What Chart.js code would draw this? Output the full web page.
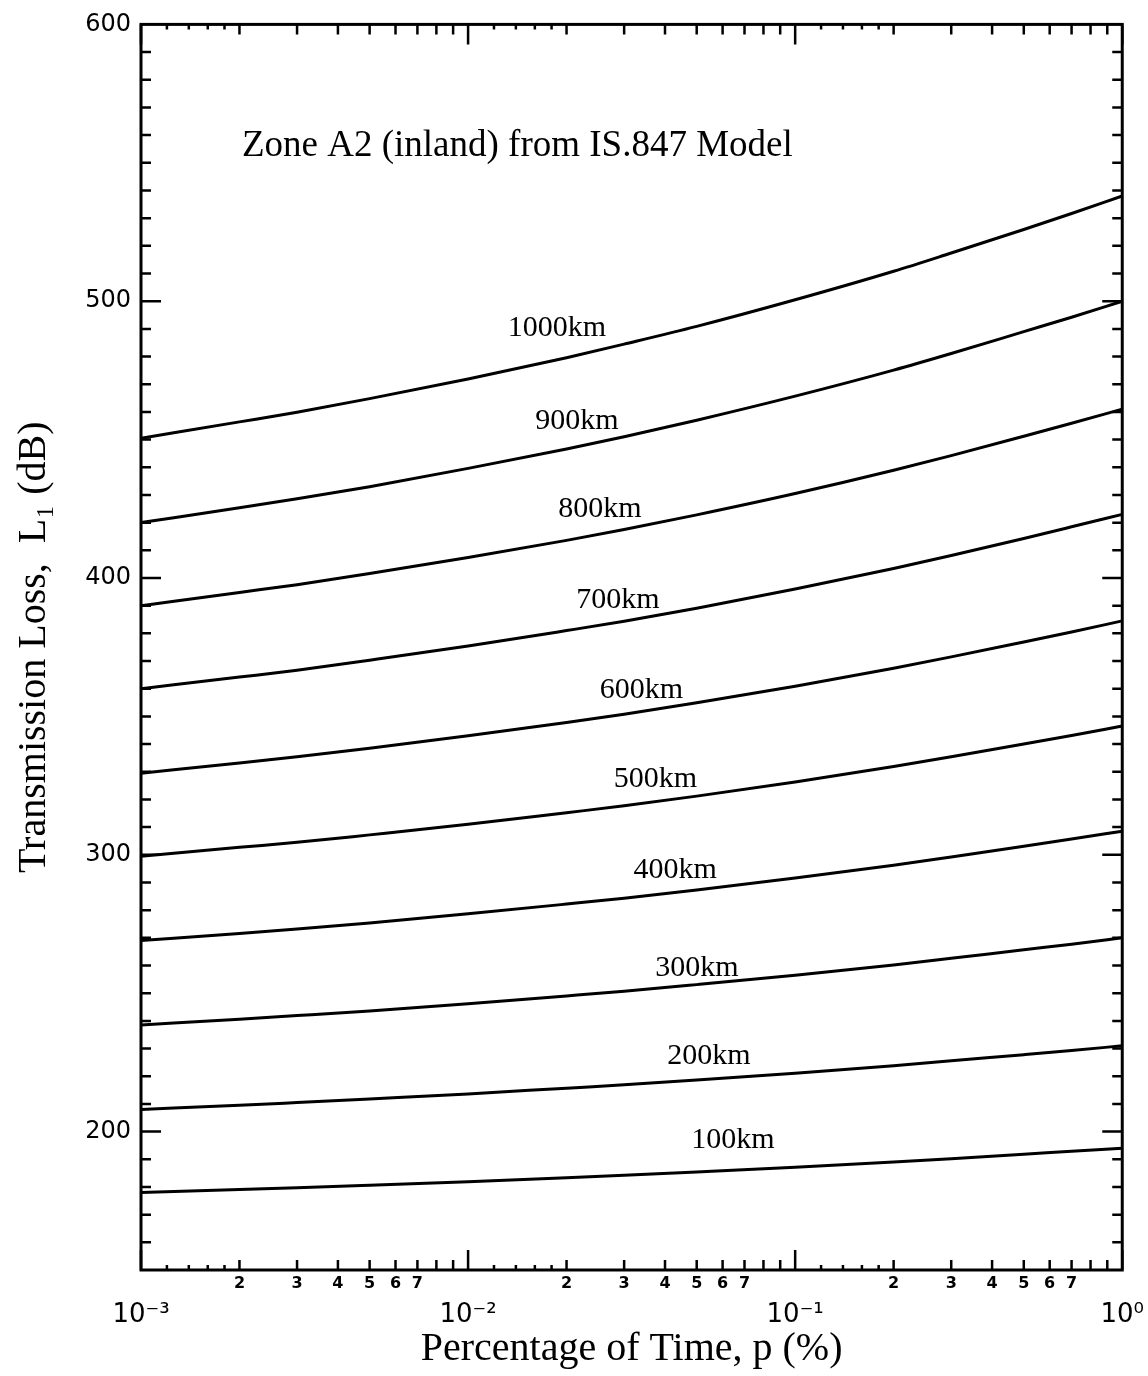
<!DOCTYPE html>
<html>
<head>
<meta charset="utf-8">
<script src="https://cdn.jsdelivr.net/npm/chart.js@4.4.0/dist/chart.umd.min.js"></script>
<style>
  html, body { margin: 0; padding: 0; background: #fff; }
</style>
</head>
<body>
<canvas id="chart" width="1148" height="1376"></canvas>
<script>
// percentage of time, p (%)
const pValues = [0.001, 0.002, 0.003, 0.005, 0.01, 0.02, 0.03, 0.05, 0.1, 0.2, 0.3, 0.5, 0.7, 1];

// transmission loss (dB) per distance
const loss100km  = [178, 179.1, 179.7, 180.6, 181.9, 183.3, 184.2, 185.4, 187.1, 189.0, 190.2, 191.8, 192.9, 194];
const loss200km  = [208, 209.5, 210.5, 211.8, 213.6, 215.7, 216.9, 218.6, 221.1, 223.8, 225.6, 227.8, 229.3, 231];
const loss300km  = [238.5, 240.6, 241.9, 243.6, 246.2, 249.0, 250.7, 253.1, 256.5, 260.2, 262.6, 265.7, 267.7, 270];
const loss400km  = [269, 271.6, 273.2, 275.4, 278.7, 282.2, 284.3, 287.3, 291.6, 296.2, 299.2, 303.1, 305.7, 308.5];
const loss500km  = [299.5, 302.7, 304.5, 307.2, 311.0, 315.2, 317.7, 321.2, 326.3, 331.9, 335.4, 340.0, 343.1, 346.5];
const loss600km  = [329.5, 333.2, 335.4, 338.5, 343.0, 347.8, 350.8, 354.9, 360.9, 367.4, 371.5, 376.9, 380.5, 384.5];
const loss700km  = [360, 364.2, 366.7, 370.3, 375.4, 381.0, 384.4, 389.1, 396.0, 403.4, 408.1, 414.3, 418.5, 423];
const loss800km  = [390, 394.8, 397.6, 401.6, 407.4, 413.6, 417.5, 422.8, 430.5, 438.9, 444.2, 451.2, 455.9, 461];
const loss900km  = [420, 425.4, 428.6, 433.0, 439.6, 446.6, 451.0, 457.0, 465.7, 475.1, 481.1, 489.0, 494.2, 500];
const loss1000km = [450.5, 456.4, 459.9, 464.8, 471.9, 479.6, 484.5, 490.9, 500.5, 510.8, 517.4, 525.9, 531.7, 538];

const curveNames = ["100km", "200km", "300km", "400km", "500km", "600km", "700km", "800km", "900km", "1000km"];
const curveData = [loss100km, loss200km, loss300km, loss400km, loss500km, loss600km, loss700km, loss800km, loss900km, loss1000km];

// where each curve name sits (p, dB)
const labelP    = [0.0645, 0.0545, 0.0501, 0.0430, 0.0374, 0.0339, 0.0287, 0.0253, 0.0215, 0.0187];
const labelLoss = [196.9, 227.2, 259.2, 294.5, 327.3, 359.4, 392.1, 424.9, 456.6, 490.1];

const chartNote = "Zone A2 (inland) from IS.847 Model";

// axis ticks
const yLabelTicks = [200, 300, 400, 500, 600];
const xLabelTicks = [0.001, 0.002, 0.003, 0.004, 0.005, 0.006, 0.007,
                     0.01, 0.02, 0.03, 0.04, 0.05, 0.06, 0.07,
                     0.1, 0.2, 0.3, 0.4, 0.5, 0.6, 0.7, 1];
const xTickText = [["", "10\u207B\u00B3"], "2", "3", "4", "5", "6", "7",
                   ["", "10\u207B\u00B2"], "2", "3", "4", "5", "6", "7",
                   ["", "10\u207B\u00B9"], "2", "3", "4", "5", "6", "7",
                   ["", "10\u2070"]];
const xDecades = [0.001, 0.01, 0.1, 1];
const xTickSteps = [1, 1.2, 1.4, 1.6, 1.8, 2, 3, 4, 5, 6, 7, 8, 9];

// frame with inward ticks on all four sides, plus text on the plot
const framePlugin = {
  id: "frame",
  afterDatasetsDraw(chart) {
    const { ctx, chartArea: a } = chart;
    const x = chart.scales.x, y = chart.scales.y;
    ctx.save();
    ctx.strokeStyle = "#000";
    ctx.lineWidth = 3;
    ctx.strokeRect(a.left, a.top, a.right - a.left, a.bottom - a.top);

    ctx.lineWidth = 2.5;
    ctx.beginPath();
    xDecades.forEach(d => {
      xTickSteps.forEach(m => {
        const v = d * m;
        if (v > 1.0001) return;
        const px = x.getPixelForValue(v);
        const len = m === 1 ? 20 : (m < 2 ? 5 : 10);
        ctx.moveTo(px, a.bottom); ctx.lineTo(px, a.bottom - len);
        ctx.moveTo(px, a.top); ctx.lineTo(px, a.top + len);
      });
    });
    for (let v = 160; v < 600; v += 10) {
      const py = y.getPixelForValue(v);
      const len = v % 100 === 0 ? 20 : 10;
      ctx.moveTo(a.left, py); ctx.lineTo(a.left + len, py);
      ctx.moveTo(a.right, py); ctx.lineTo(a.right - len, py);
    }
    ctx.stroke();

    ctx.fillStyle = "#000";
    ctx.font = "30px 'Liberation Serif'";
    ctx.textAlign = "center";
    ctx.textBaseline = "middle";
    curveNames.forEach((t, i) => {
      ctx.fillText(t, x.getPixelForValue(labelP[i]), y.getPixelForValue(labelLoss[i]));
    });

    ctx.font = "37px 'Liberation Serif'";
    ctx.textAlign = "left";
    ctx.textBaseline = "alphabetic";
    ctx.fillText(chartNote, a.left + 101, a.top + 132);
    ctx.restore();
  }
};

const datasets = curveData.map((vals, i) => ({
  label: curveNames[i],
  data: pValues.map((p, j) => ({ x: p, y: vals[j] })),
  borderColor: "#000",
  borderWidth: 3,
  pointRadius: 0,
  fill: false,
  cubicInterpolationMode: "monotone"
}));

new Chart(document.getElementById("chart"), {
  type: "line",
  data: { datasets },
  plugins: [framePlugin],
  options: {
    responsive: false,
    animation: false,
    layout: { padding: { top: 20, right: 19, bottom: 3, left: 0 } },
    plugins: { legend: { display: false }, tooltip: { enabled: false } },
    scales: {
      x: {
        type: "logarithmic",
        min: 0.001,
        max: 1,
        grid: { display: false, drawTicks: false },
        border: { display: false },
        afterBuildTicks: s => { s.ticks = xLabelTicks.map(v => ({ value: v })); },
        afterFit: s => { s.height = 103; },
        ticks: {
          autoSkip: false,
          maxRotation: 0,
          minRotation: 0,
          padding: 4,
          color: "#000",
          callback: (v, i) => xTickText[i],
          font: c => Array.isArray(xTickText[c.index])
            ? { family: "'DejaVu Sans'", size: 26, lineHeight: 1.05 }
            : { family: "'DejaVu Sans'", size: 16, weight: "bold" }
        },
        title: {
          display: true,
          text: "Percentage of Time, p (%)",
          color: "#000",
          font: { family: "'Liberation Serif'", size: 40 },
          padding: { top: 0, bottom: 0 }
        }
      },
      y: {
        min: 150,
        max: 600,
        grid: { display: false, drawTicks: false },
        border: { display: false },
        afterBuildTicks: s => { s.ticks = yLabelTicks.map(v => ({ value: v })); },
        afterFit: s => { s.width = 141; },
        ticks: {
          padding: 10,
          color: "#000",
          font: { family: "'DejaVu Sans'", size: 24 }
        },
        title: {
          display: true,
          text: "Transmission Loss,  L\u2081 (dB)",
          color: "#000",
          font: { family: "'Liberation Serif'", size: 40 },
          padding: { top: 10, bottom: 0 }
        }
      }
    }
  }
});
</script>
</body>
</html>
